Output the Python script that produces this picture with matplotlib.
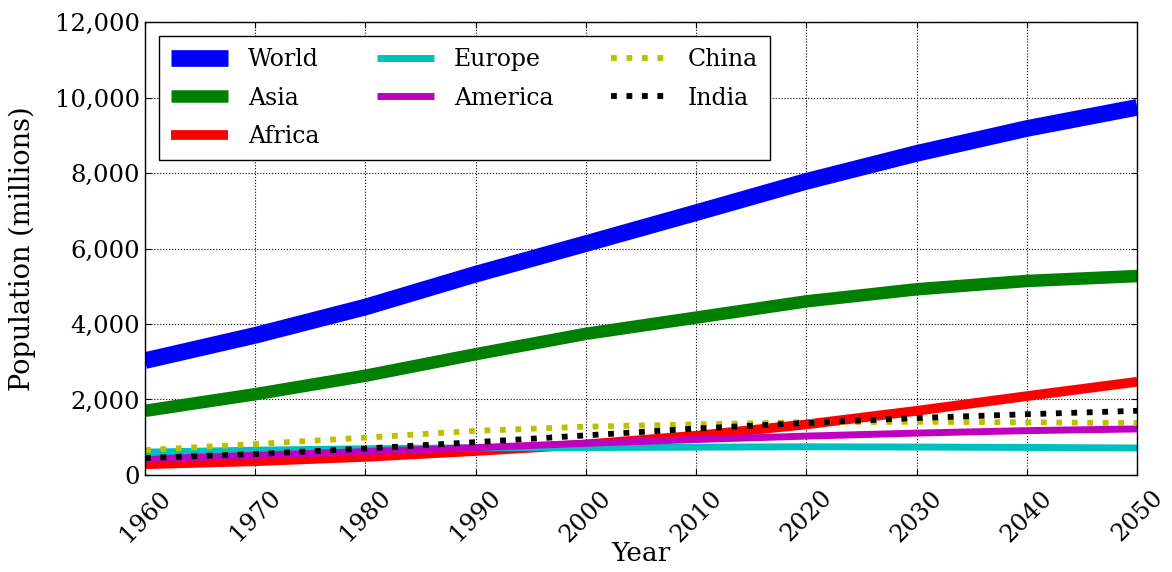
import numpy as np
import matplotlib
matplotlib.use("Agg")
import matplotlib.pyplot as plt
from matplotlib.ticker import FuncFormatter

years = [1960, 1970, 1980, 1990, 2000, 2010, 2020, 2030, 2040, 2050]

world   = [3030, 3700, 4450, 5320, 6130, 6950, 7780, 8520, 9180, 9740]
asia    = [1700, 2140, 2630, 3200, 3740, 4170, 4600, 4920, 5140, 5270]
africa  = [285, 365, 480, 635, 810, 1040, 1340, 1700, 2090, 2470]
europe  = [605, 657, 694, 721, 727, 737, 747, 740, 730, 715]
america = [420, 520, 620, 725, 840, 940, 1030, 1110, 1175, 1220]
china   = [660, 820, 990, 1170, 1280, 1340, 1400, 1410, 1395, 1375]
india   = [450, 555, 700, 870, 1050, 1230, 1380, 1510, 1610, 1700]

plt.rcParams['font.family'] = ['DejaVu Serif']
plt.rcParams['font.size'] = 15
plt.rcParams['lines.solid_capstyle'] = 'butt'

fig = plt.figure(figsize=(11.72, 5.72), dpi=100)
ax = fig.add_axes([0.1237, 0.1696, 0.8466, 0.7919])

ax.plot(years, world, color='b', lw=12, label='World')
ax.plot(years, asia, color='g', lw=9, label='Asia')
ax.plot(years, africa, color='r', lw=7, label='Africa')
ax.plot(years, europe, color='c', lw=5, label='Europe')
ax.plot(years, america, color='m', lw=5, label='America')
ax.plot(years, china, color='y', lw=4.2, ls=':', label='China')
ax.plot(years, india, color='k', lw=4.2, ls=':', label='India')

ax.set_xlim(1960, 2050)
ax.set_ylim(0, 12000)
ax.set_xticks(years)
ax.set_yticks(range(0, 12001, 2000))
ax.yaxis.set_major_formatter(FuncFormatter(lambda v, p: '{:,.0f}'.format(v)))
for lbl in ax.get_xticklabels():
    lbl.set_rotation(45)

ax.grid(True, color='k', ls=':', lw=0.8)
ax.tick_params(direction='in', top=True, right=True, length=4, labelsize=17.5)
ax.tick_params(axis='x', pad=8)
for s in ax.spines.values():
    s.set_linewidth(1.0)

ax.set_xlabel('Year', fontsize=19, labelpad=-4)
ax.set_ylabel('Population (millions)', fontsize=19.5, labelpad=14)

leg = ax.legend(loc='upper left', ncol=3, fontsize=17, fancybox=False,
                handlelength=2.4, borderaxespad=0.6, columnspacing=2.45,
                labelspacing=0.66, handletextpad=0.85, borderpad=0.5)
leg.get_frame().set_edgecolor('k')
leg.get_frame().set_linewidth(1.0)
leg.get_frame().set_alpha(1.0)

fig.savefig('out.png', dpi=100)
